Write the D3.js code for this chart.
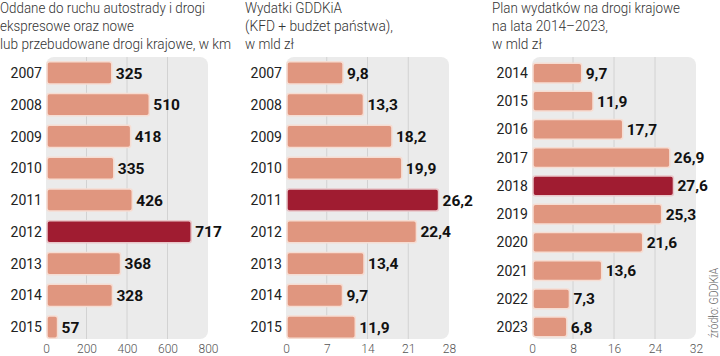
<!DOCTYPE html>
<html><head><meta charset="utf-8">
<script src="https://cdn.jsdelivr.net/npm/d3@7"></script>
<style>
html,body{margin:0;padding:0;background:#fff;}
svg{display:block;}
text{font-family:Roboto,"Noto Sans",sans-serif;}
</style></head>
<body><svg id="c" width="720" height="356"></svg>
<script>
// ---- data ----
const years1 = ["2007","2008","2009","2010","2011","2012","2013","2014","2015"];
const km = [325,510,418,335,426,717,368,328,57];
const ticks1 = [0,200,400,600,800];
const title1 = ["Oddane do ruchu autostrady i drogi","ekspresowe oraz nowe","lub przebudowane drogi krajowe, w km"];

const years2 = ["2007","2008","2009","2010","2011","2012","2013","2014","2015"];
const spend = [9.8,13.3,18.2,19.9,26.2,22.4,13.4,9.7,11.9];
const ticks2 = [0,7,14,21,28];
const title2 = ["Wydatki GDDKiA","(KFD + budżet państwa),","w mld zł"];

const years3 = ["2014","2015","2016","2017","2018","2019","2020","2021","2022","2023"];
const plan = [9.7,11.9,17.7,26.9,27.6,25.3,21.6,13.6,7.3,6.8];
const ticks3 = [0,8,16,24,32];
const title3 = ["Plan wydatków na drogi krajowe","na lata 2014\u20132023,","w mld zł"];

const highlight1 = "2012", highlight2 = "2011", highlight3 = "2018";
const source = "źródło: GDDKiA";

// ---- drawing ----
const svg = d3.select("#c");
const fmtInt = d3.format("d");
const fmtDec = v => d3.format(".1f")(v).replace(".", ",");

function panel(cfg){
  const g = svg.append("g");
  const x = d3.scaleLinear().domain([0, cfg.ticks[cfg.ticks.length-1]]).range([cfg.x0, cfg.x1]);
  const y = d3.scaleBand().domain(cfg.years).range([cfg.y0, cfg.y1]).paddingInner(0.3).paddingOuter(0.15);
  // title
  const t = g.append("text").attr("fill","#333").style("font-size","14.5px").style("font-weight",300);
  cfg.title.forEach((line,i)=>{
    t.append("tspan").attr("x",cfg.tx).attr("y",12.5 + i*18).attr("textLength",cfg.tw[i]).attr("lengthAdjust","spacingAndGlyphs").text(line);
  });
  // background
  g.append("rect").attr("x",x(0)).attr("y",57).attr("width",x.range()[1]-x(0)).attr("height",282)
    .attr("rx",8).attr("fill","#ebebeb");
  // gridlines
  g.selectAll("line.grid").data(cfg.ticks.slice(1,-1)).join("line")
    .attr("x1",d=>x(d)).attr("x2",d=>x(d)).attr("y1",57).attr("y2",339)
    .attr("stroke","#d2d2d2").attr("stroke-width",1);
  // axis
  const ax = d3.axisBottom(x).tickValues(cfg.ticks).tickSize(0).tickPadding(0).tickFormat(d3.format("d"));
  const axg = g.append("g").attr("transform",`translate(0,344.5)`).call(ax);
  axg.select(".domain").remove();
  axg.selectAll("text").attr("fill","#555").style("font-size","12px").style("font-weight",300).attr("dy","0.71em");
  // bars
  const data = cfg.years.map((yr,i)=>({yr, v:cfg.values[i]}));
  g.selectAll("rect.bar").data(data).join("rect").attr("class","bar")
    .attr("x",x(0)+1).attr("y",d=>y(d.yr)).attr("height",y.bandwidth())
    .attr("width",d=>Math.max(0,x(d.v)-x(0)-1)).attr("rx",2.5)
    .attr("fill",d=>d.yr===cfg.hl?"#a01c31":"#e0967f")
    .attr("stroke",d=>d.yr===cfg.hl?"#e9c6c9":"#f6ddd3").attr("stroke-width",1.5);
  // year labels
  g.selectAll("text.yr").data(data).join("text").attr("class","yr")
    .attr("x",x(0)-4).attr("y",d=>y(d.yr)+y.bandwidth()/2).attr("dy","0.36em")
    .attr("text-anchor","end").attr("fill","#222").style("font-size","14px").text(d=>d.yr);
  // value labels
  g.selectAll("text.val").data(data).join("text").attr("class","val")
    .attr("x",d=>x(d.v)+4).attr("y",d=>y(d.yr)+y.bandwidth()/2).attr("dy","0.36em")
    .attr("fill","#111").style("font-size","15.5px").style("font-weight",700)
    .text(d=>cfg.fmt(d.v));
}

panel({years:years1, values:km, ticks:ticks1, title:title1, hl:highlight1, fmt:fmtInt,
  x0:46, x1:208, y0:57.1, y1:342.9, tx:0, tw:[205,134,231]});
panel({years:years2, values:spend, ticks:ticks2, title:title2, hl:highlight2, fmt:fmtDec,
  x0:286, x1:449, y0:57.1, y1:342.9, tx:245, tw:[97,148,49]});
panel({years:years3, values:plan, ticks:ticks3, title:title3, hl:highlight3, fmt:fmtDec,
  x0:532, x1:696, y0:58.9, y1:341.1, tx:492, tw:[188,116,50]});

svg.append("text").attr("transform","translate(718,338) rotate(-90)")
  .attr("fill","#666").style("font-size","12px").style("font-weight",300)
  .attr("textLength",70).attr("lengthAdjust","spacingAndGlyphs").text(source);
</script></body></html>
